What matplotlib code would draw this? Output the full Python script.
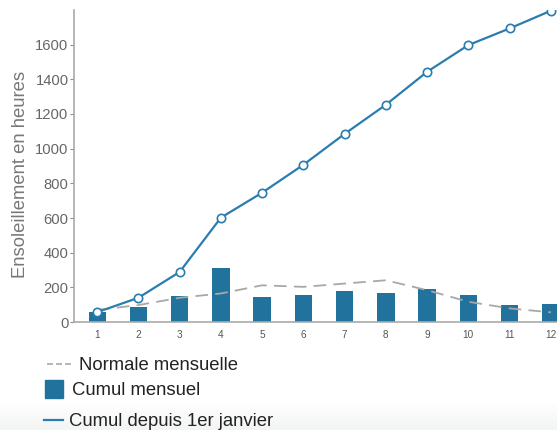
import matplotlib
matplotlib.use("Agg")
import numpy as np
import matplotlib.pyplot as plt
from matplotlib.lines import Line2D

plt.rcParams['font.family'] = ['Liberation Sans', 'DejaVu Sans']

mois = [1, 2, 3, 4, 5, 6, 7, 8, 9, 10, 11, 12]
cumul_mensuel = [57, 86, 150, 313, 147, 158, 180, 170, 189, 155, 97, 105]
cumul_annuel = [57, 140, 289, 602, 746, 907, 1085, 1253, 1443, 1597, 1693, 1795]
normale = [70, 98, 140, 165, 212, 203, 222, 241, 184, 117, 79, 56]

bleu = '#21729c'
bleu_ligne = '#2b7db0'
gris = '#8c8c8c'
W, H = 557, 430

fig = plt.figure(figsize=(W / 100, H / 100), dpi=100)

# fond legerement grise en bas
bg = fig.add_axes([0, 0, 1, 28 / H], zorder=-1)
bg.imshow(np.linspace(1, 0, 50).reshape(-1, 1), cmap=plt.matplotlib.colors.LinearSegmentedColormap.from_list(
    'g', ['#f3f4f4', '#ffffff']), aspect='auto', extent=[0, 1, 0, 1], vmin=0, vmax=1)
bg.axis('off')

ax = fig.add_axes([0.133, 0.251, 0.867, 0.726])

ax.bar(mois, cumul_mensuel, width=0.42, color=bleu, zorder=2)
ax.plot(mois, normale, color='#a8a8a8', lw=1.3, dashes=(7, 4), zorder=3)
ax.plot(mois, cumul_annuel, color=bleu_ligne, lw=1.6, marker='o', ms=6,
        mfc='white', mec=bleu_ligne, mew=1.2, zorder=4)

ax.set_xlim(0.44, 12.15)
ax.set_ylim(0, 1800)
ax.set_xticks(mois)
ax.set_yticks(range(0, 1601, 200))
ax.tick_params(axis='x', length=0, labelsize=7.2, labelcolor='#555555', pad=6)
ax.tick_params(axis='y', length=3, color=gris, labelsize=10.6, labelcolor='#666666', pad=1)
for s in ['top', 'right']:
    ax.spines[s].set_visible(False)
for s in ['left', 'bottom']:
    ax.spines[s].set_color('#aaaaaa')
    ax.spines[s].set_linewidth(1.2)
ax.set_ylabel('Ensoleillement en heures', fontsize=13.3, color='#777777')
ax.yaxis.set_label_coords(-0.094, 0.474)

# legende : une entree par ligne, comme sur l'original
fs = 13.3
items = [
    (Line2D([], [], color='#b0b0b0', lw=1.3, dashes=(3.3, 1.7)), 'Normale mensuelle', 47, 365.5, 1.4, 0.32),
    (Line2D([], [], color=bleu, ls='none', marker='s', ms=13), 'Cumul mensuel', 45, 390.5, 0.97, 0.49),
    (Line2D([], [], color=bleu_ligne, lw=1.6), 'Cumul depuis 1er janvier', 44, 422, 1.03, 0.32),
]
for h, lab, x, y, hl, tp in items:
    fig.legend([h], [lab], loc='center left', bbox_to_anchor=(x / W, 1 - y / H),
               frameon=False, fontsize=fs, handlelength=hl, handletextpad=tp,
               borderpad=0, borderaxespad=0, labelcolor='#222222')

fig.savefig('out.png', dpi=100)
